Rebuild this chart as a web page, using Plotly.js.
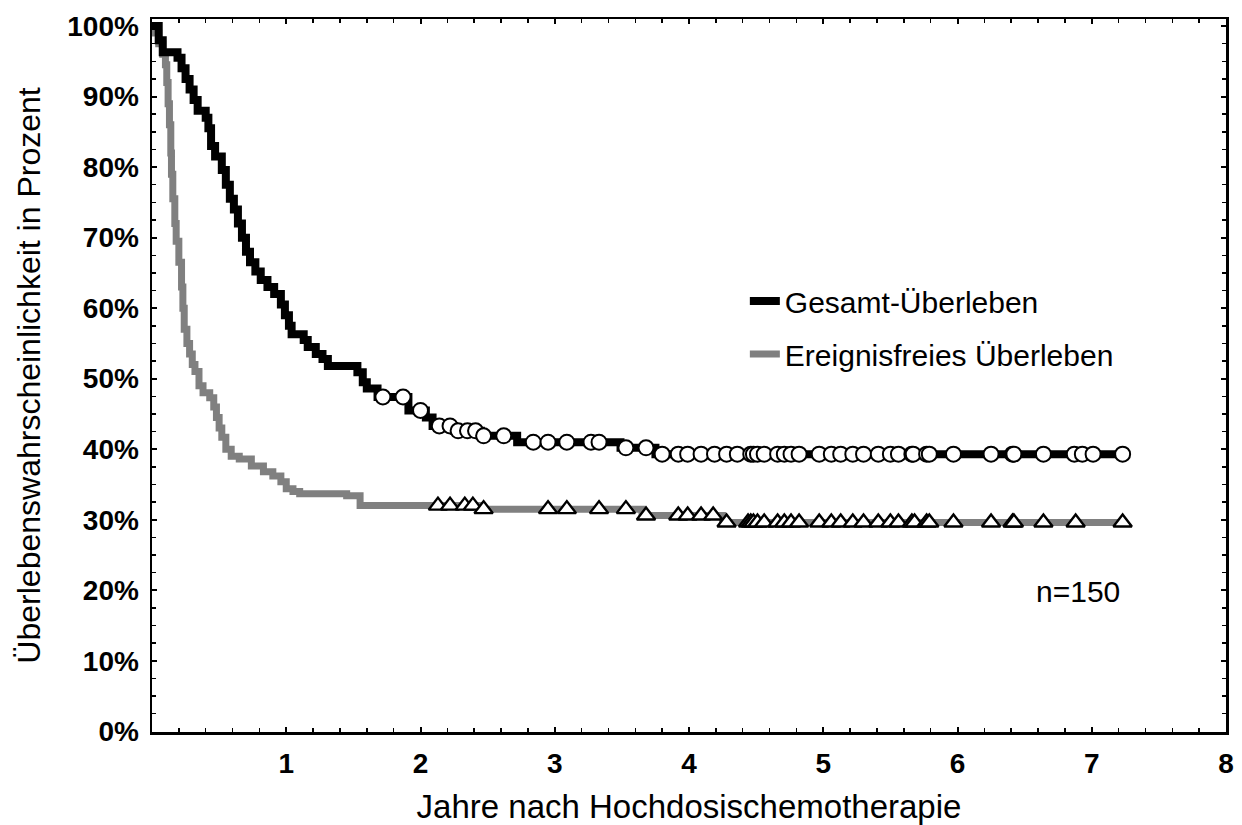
<!DOCTYPE html>
<html><head><meta charset="utf-8">
<script src="https://cdn.plot.ly/plotly-3.0.1.min.js"></script>
<style>html,body{margin:0;padding:0;background:#fff}#chart{width:1242px;height:825px}</style>
</head><body><div id="chart"></div>
<script>
// Gesamt-Überleben (overall survival): step times (years) and survival (%) after each step
const osTimes = [0, 0.05, 0.08, 0.19, 0.22, 0.25, 0.28, 0.31, 0.34, 0.40, 0.42, 0.44, 0.47, 0.52, 0.55, 0.58, 0.61, 0.64, 0.67, 0.70, 0.73, 0.77, 0.81, 0.86, 0.91, 0.96, 0.99, 1.02, 1.04, 1.13, 1.16, 1.22, 1.27, 1.31, 1.53, 1.57, 1.60, 1.68, 1.91, 2.04, 2.09, 2.25, 2.45, 2.72, 3.49, 3.75];
const osSurv  = [100, 98, 96.3, 95.5, 94, 92.5, 91, 89.5, 88, 87, 85.5, 83, 81.5, 79.6, 77.5, 75.5, 74, 72, 70, 68, 66.5, 65.2, 64, 63, 62, 60.5, 59, 57.5, 56.3, 55.5, 54.5, 53.5, 52.8, 51.8, 50.9, 49.5, 48.6, 47.4, 45.5, 44.5, 43.3, 42.6, 41.9, 41.0, 40.2, 39.3];
const osEnd = 7.24;
// censored patients (circles)
const osCensored = [1.72, 1.87, 2.00, 2.14, 2.22, 2.28, 2.35, 2.41, 2.47, 2.62, 2.84, 2.95, 3.09, 3.27, 3.33, 3.53, 3.68, 3.80, 3.92, 3.99, 4.09, 4.19, 4.28, 4.36, 4.46, 4.48, 4.51, 4.56, 4.66, 4.71, 4.76, 4.82, 4.97, 5.06, 5.13, 5.22, 5.30, 5.41, 5.50, 5.56, 5.66, 5.67, 5.77, 5.79, 5.97, 6.25, 6.41, 6.42, 6.64, 6.87, 6.93, 7.01, 7.23];

// Ereignisfreies Überleben (event-free survival)
const efsTimes = [0, 0.02, 0.05, 0.08, 0.10, 0.11, 0.12, 0.13, 0.14, 0.145, 0.155, 0.17, 0.18, 0.20, 0.22, 0.23, 0.24, 0.26, 0.28, 0.30, 0.32, 0.35, 0.38, 0.43, 0.46, 0.48, 0.50, 0.52, 0.55, 0.59, 0.65, 0.74, 0.83, 0.90, 0.96, 1.00, 1.05, 1.10, 1.45, 1.55, 2.45, 3.65, 4.25];
const efsSurv  = [100, 99, 97.5, 96, 94.5, 92, 89, 86, 82, 79, 75.5, 72, 69.5, 66.5, 63, 60, 57, 55, 53.5, 52, 51, 49, 48, 47.3, 46, 44.5, 43, 41.7, 40, 39, 38.6, 37.6, 36.8, 36.2, 35.4, 34.4, 34, 33.7, 33.4, 32.0, 31.5, 30.6, 29.6];
const efsEnd = 7.24;
const efsCensored = [2.13, 2.22, 2.33, 2.39, 2.47, 2.95, 3.09, 3.33, 3.53, 3.68, 3.92, 3.99, 4.09, 4.18, 4.28, 4.44, 4.46, 4.48, 4.51, 4.56, 4.66, 4.71, 4.76, 4.82, 4.97, 5.06, 5.13, 5.22, 5.30, 5.41, 5.50, 5.56, 5.66, 5.68, 5.77, 5.79, 5.97, 6.25, 6.41, 6.42, 6.64, 6.88, 7.23];

const seriesNames = ['Gesamt-Überleben', 'Ereignisfreies Überleben'];
const xTickVals = [1, 2, 3, 4, 5, 6, 7, 8];
const yTickVals = [0, 10, 20, 30, 40, 50, 60, 70, 80, 90, 100];
const xTitle = 'Jahre nach Hochdosischemotherapie';
const yTitle = 'Überlebenswahrscheinlichkeit in Prozent';
const nLabel = 'n=150';

function stepAt(times, surv, t) {
  let v = surv[0];
  for (let i = 0; i < times.length; i++) if (times[i] <= t) v = surv[i];
  return v;
}

const FONT = 'Liberation Sans, Arial, sans-serif';

const traces = [
  {
    x: efsTimes.concat([efsEnd]), y: efsSurv.concat([efsSurv[efsSurv.length - 1]]),
    type: 'scatter', mode: 'lines', line: {shape: 'hv', color: '#808080', width: 7},
    name: seriesNames[1], legendgroup: 'b', legendrank: 2, hoverinfo: 'skip'
  },
  {
    x: osTimes.concat([osEnd]), y: osSurv.concat([osSurv[osSurv.length - 1]]),
    type: 'scatter', mode: 'lines', line: {shape: 'hv', color: '#000000', width: 8},
    name: seriesNames[0], legendgroup: 'a', legendrank: 1, hoverinfo: 'skip'
  },
  {
    x: osCensored, y: osCensored.map(t => stepAt(osTimes, osSurv, t)),
    type: 'scatter', mode: 'markers', showlegend: false,
    marker: {symbol: 'circle', size: 15, color: '#ffffff', line: {color: '#000000', width: 2}}
  },
  {
    x: efsCensored, y: efsCensored.map(t => stepAt(efsTimes, efsSurv, t)),
    type: 'scatter', mode: 'markers', showlegend: false,
    marker: {symbol: 'triangle-up', size: 16, color: '#ffffff', line: {color: '#000000', width: 2.4}}
  }
];

const layout = {
  width: 1242, height: 825,
  margin: {l: 152, r: 16, t: 19, b: 93},
  paper_bgcolor: '#ffffff', plot_bgcolor: '#ffffff',
  font: {family: FONT, color: '#000000'},
  showlegend: true,
  legend: {
    x: 0.552, y: 0.641, xanchor: 'left', yanchor: 'top',
    font: {family: FONT, size: 30, color: '#000000'},
    bgcolor: 'rgba(0,0,0,0)', borderwidth: 0,
    traceorder: 'grouped', tracegroupgap: 11
  },
  xaxis: {
    range: [0, 8], tickvals: xTickVals, ticktext: xTickVals.map(String),
    ticks: 'inside', ticklen: 5, tickwidth: 2, tickcolor: '#000',
    showline: true, linewidth: 2.5, linecolor: '#000', mirror: 'allticks',
    showgrid: false, zeroline: false, ticklabelstandoff: 5,
    minor: {dtick: 0.2, tick0: 0, ticks: 'inside', ticklen: 4, tickwidth: 1.5, tickcolor: '#000', showgrid: false},
    tickfont: {family: FONT, size: 28, weight: 'bold', color: '#000'},
    title: {text: xTitle, font: {family: FONT, size: 33, color: '#000'}, standoff: 21}
  },
  yaxis: {
    range: [-0.1, 101], tickvals: yTickVals, ticktext: yTickVals.map(v => v + '%'),
    ticks: 'inside', ticklen: 5, tickwidth: 2, tickcolor: '#000',
    showline: true, linewidth: 2.5, linecolor: '#000', mirror: 'allticks',
    showgrid: false, zeroline: false, ticklabelstandoff: 5,
    minor: {dtick: 2.5, tick0: 0, ticks: 'inside', ticklen: 4, tickwidth: 1.5, tickcolor: '#000', showgrid: false},
    tickfont: {family: FONT, size: 28, weight: 'bold', color: '#000'},
    title: {text: yTitle, font: {family: FONT, size: 32, color: '#000'}, standoff: 17}
  },
  annotations: [{
    x: 6.9, y: 19.8, xref: 'x', yref: 'y', text: nLabel, showarrow: false,
    font: {family: FONT, size: 30, color: '#000'}
  }]
};

Plotly.newPlot('chart', traces, layout, {staticPlot: true, displayModeBar: false});
</script>
</body></html>
